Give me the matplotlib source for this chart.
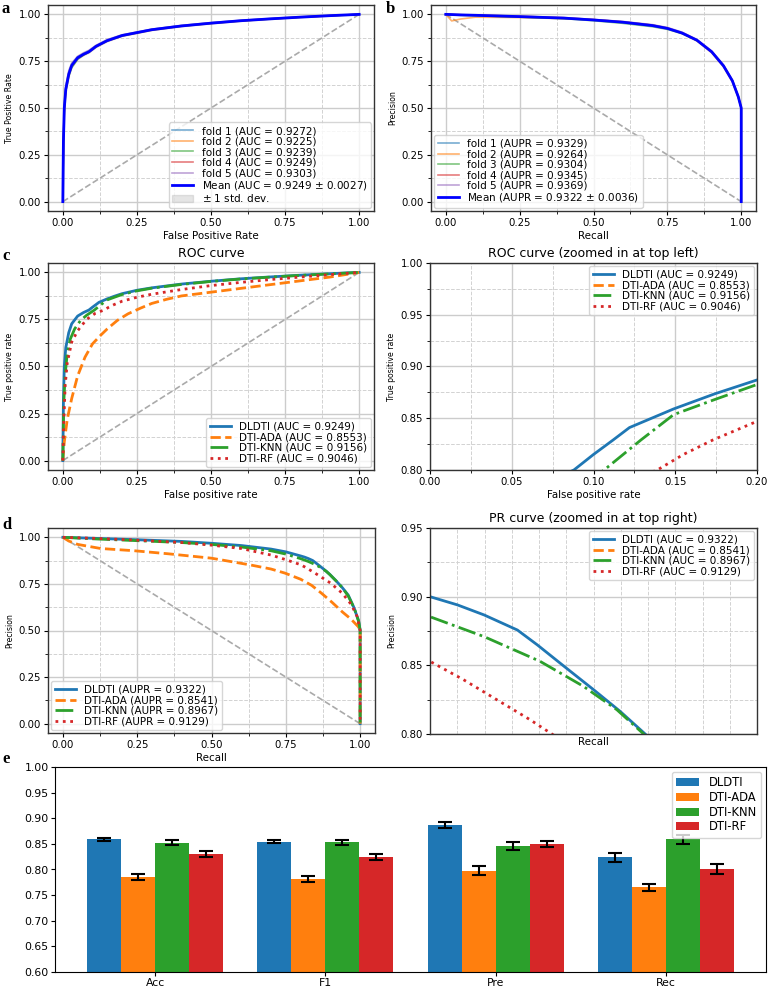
import numpy as np
import matplotlib
matplotlib.use('Agg')
import matplotlib.pyplot as plt
from matplotlib.ticker import MultipleLocator, AutoMinorLocator, FormatStrFormatter

# ---- panel a: ROC per fold (5-fold CV) ----
fpr_a = [0, 0.002, 0.005, 0.01, 0.02, 0.03, 0.05, 0.07, 0.088, 0.112, 0.149, 0.2, 0.3, 0.4, 0.5, 0.6, 0.7, 0.8, 0.9, 1.0]
tpr_fold1 = [0, 0.33, 0.51, 0.61, 0.69, 0.735, 0.773, 0.79, 0.805, 0.832, 0.862, 0.889, 0.920, 0.940, 0.955, 0.967, 0.977, 0.986, 0.993, 1.0]
tpr_fold2 = [0, 0.30, 0.48, 0.59, 0.67, 0.72, 0.763, 0.782, 0.797, 0.825, 0.856, 0.884, 0.915, 0.936, 0.951, 0.964, 0.975, 0.984, 0.992, 1.0]
tpr_fold3 = [0, 0.31, 0.49, 0.59, 0.67, 0.715, 0.76, 0.783, 0.798, 0.827, 0.858, 0.885, 0.917, 0.937, 0.952, 0.965, 0.975, 0.985, 0.993, 1.0]
tpr_fold4 = [0, 0.32, 0.50, 0.60, 0.68, 0.725, 0.767, 0.787, 0.80, 0.829, 0.859, 0.887, 0.918, 0.938, 0.953, 0.966, 0.976, 0.985, 0.993, 1.0]
tpr_fold5 = [0, 0.34, 0.52, 0.62, 0.70, 0.74, 0.776, 0.795, 0.808, 0.835, 0.865, 0.891, 0.921, 0.941, 0.956, 0.968, 0.978, 0.987, 0.994, 1.0]
tpr_mean = [0, 0.32, 0.50, 0.60, 0.68, 0.727, 0.768, 0.787, 0.80, 0.829, 0.859, 0.887, 0.918, 0.938, 0.953, 0.966, 0.976, 0.985, 0.993, 1.0]
auc_folds = [0.9272, 0.9225, 0.9239, 0.9249, 0.9303]

# ---- panel b: PR per fold ----
rec_b = [0, 0.02, 0.05, 0.1, 0.25, 0.4, 0.5, 0.6, 0.7, 0.75, 0.8, 0.85, 0.9, 0.94, 0.97, 0.99, 1.0, 1.0]
pre_fold1 = [1.0, 0.998, 0.996, 0.994, 0.987, 0.979, 0.969, 0.957, 0.939, 0.924, 0.899, 0.861, 0.800, 0.724, 0.645, 0.560, 0.5, 0.0]
pre_fold2 = [1.0, 0.965, 0.975, 0.985, 0.983, 0.977, 0.972, 0.960, 0.943, 0.926, 0.898, 0.858, 0.795, 0.720, 0.640, 0.555, 0.5, 0.0]
pre_fold3 = [1.0, 0.997, 0.995, 0.993, 0.985, 0.977, 0.966, 0.952, 0.934, 0.920, 0.897, 0.860, 0.800, 0.726, 0.647, 0.560, 0.5, 0.0]
pre_fold4 = [1.0, 0.999, 0.998, 0.996, 0.990, 0.982, 0.972, 0.960, 0.942, 0.927, 0.902, 0.864, 0.802, 0.727, 0.646, 0.561, 0.5, 0.0]
pre_fold5 = [1.0, 0.999, 0.998, 0.996, 0.990, 0.983, 0.973, 0.962, 0.945, 0.930, 0.905, 0.866, 0.805, 0.730, 0.650, 0.565, 0.5, 0.0]
pre_mean = [1.0, 0.999, 0.997, 0.995, 0.988, 0.980, 0.970, 0.958, 0.940, 0.925, 0.900, 0.862, 0.800, 0.725, 0.645, 0.560, 0.5, 0.0]
aupr_folds = [0.9329, 0.9264, 0.9304, 0.9345, 0.9369]

# ---- panel c: ROC of methods ----
methods = ['DLDTI', 'DTI-ADA', 'DTI-KNN', 'DTI-RF']
roc_auc = [0.9249, 0.8553, 0.9156, 0.9046]
fpr_dldti = [0, 0.002, 0.005, 0.01, 0.02, 0.03, 0.05, 0.07, 0.088, 0.1, 0.112, 0.122, 0.149, 0.174, 0.2, 0.25, 0.3, 0.4, 0.5, 0.6, 0.7, 0.8, 0.9, 1.0]
tpr_dldti = [0, 0.32, 0.50, 0.60, 0.68, 0.727, 0.768, 0.787, 0.80, 0.815, 0.829, 0.841, 0.859, 0.8735, 0.887, 0.905, 0.918, 0.938, 0.953, 0.966, 0.976, 0.985, 0.993, 1.0]
fpr_ada = [0, 0.005, 0.015, 0.03, 0.05, 0.075, 0.1, 0.127, 0.15, 0.184, 0.22, 0.262, 0.3, 0.35, 0.4, 0.5, 0.6, 0.75, 0.9, 1.0]
tpr_ada = [0, 0.10, 0.22, 0.33, 0.45, 0.55, 0.62, 0.665, 0.70, 0.745, 0.78, 0.81, 0.835, 0.857, 0.875, 0.895, 0.915, 0.945, 0.975, 1.0]
fpr_knn = [0, 0.003, 0.008, 0.015, 0.025, 0.04, 0.06, 0.08, 0.1065, 0.129, 0.149, 0.174, 0.2, 0.25, 0.3, 0.4, 0.5, 0.6, 0.7, 0.8, 0.9, 1.0]
tpr_knn = [0, 0.30, 0.46, 0.57, 0.645, 0.70, 0.745, 0.772, 0.80, 0.829, 0.8535, 0.868, 0.8826, 0.902, 0.916, 0.936, 0.952, 0.965, 0.975, 0.984, 0.992, 1.0]
fpr_rf = [0, 0.003, 0.008, 0.015, 0.03, 0.05, 0.08, 0.11, 0.139, 0.155, 0.173, 0.2, 0.25, 0.3, 0.4, 0.5, 0.6, 0.7, 0.8, 0.9, 1.0]
tpr_rf = [0, 0.20, 0.40, 0.52, 0.63, 0.69, 0.75, 0.783, 0.80, 0.815, 0.829, 0.847, 0.868, 0.884, 0.909, 0.93, 0.947, 0.962, 0.975, 0.988, 1.0]

# ---- panel d: PR of methods ----
pr_auc = [0.9322, 0.8541, 0.8967, 0.9129]
rec_dldti = [0, 0.1, 0.25, 0.4, 0.5, 0.6, 0.7, 0.75, 0.8, 0.8126, 0.8248, 0.8401, 0.8493, 0.8615, 0.875, 0.8872, 0.8987, 0.92, 0.94, 0.96, 0.98, 0.995, 1.0, 1.0]
pre_dldti = [1.0, 0.995, 0.987, 0.978, 0.968, 0.956, 0.937, 0.922, 0.900, 0.894, 0.8867, 0.8757, 0.8648, 0.8493, 0.8323, 0.8165, 0.800, 0.765, 0.73, 0.69, 0.62, 0.55, 0.5, 0.0]
rec_ada = [0, 0.02, 0.05, 0.127, 0.24, 0.352, 0.5, 0.63, 0.7, 0.747, 0.8, 0.837, 0.87, 0.905, 0.94, 0.97, 0.994, 1.0, 1.0]
pre_ada = [1.0, 0.98, 0.962, 0.94, 0.928, 0.912, 0.888, 0.852, 0.83, 0.808, 0.775, 0.742, 0.70, 0.652, 0.60, 0.56, 0.52, 0.5, 0.0]
rec_knn = [0, 0.1, 0.25, 0.4, 0.5, 0.6, 0.7, 0.75, 0.8, 0.8248, 0.8505, 0.8704, 0.8857, 0.898, 0.92, 0.94, 0.96, 0.98, 0.995, 1.0, 1.0]
pre_knn = [1.0, 0.992, 0.982, 0.972, 0.962, 0.948, 0.928, 0.91, 0.8854, 0.8709, 0.8529, 0.8347, 0.8177, 0.800, 0.765, 0.73, 0.685, 0.62, 0.55, 0.5, 0.0]
rec_rf = [0, 0.1, 0.25, 0.4, 0.5, 0.6, 0.7, 0.75, 0.8, 0.8153, 0.8306, 0.8459, 0.8559, 0.9, 0.94, 0.97, 0.99, 1.0, 1.0]
pre_rf = [1.0, 0.995, 0.985, 0.972, 0.958, 0.94, 0.905, 0.88, 0.8529, 0.8396, 0.825, 0.8104, 0.800, 0.755, 0.70, 0.64, 0.575, 0.5, 0.0]

# ---- panel e: metrics (mean, std) ----
metrics = ['Acc', 'F1', 'Pre', 'Rec']
mean_dldti = [0.859, 0.854, 0.8865, 0.824]
mean_ada = [0.786, 0.781, 0.798, 0.7655]
mean_knn = [0.852, 0.853, 0.8466, 0.8587]
mean_rf = [0.830, 0.824, 0.850, 0.8016]
std_dldti = [0.003, 0.003, 0.0057, 0.0086]
std_ada = [0.0057, 0.0054, 0.0092, 0.0067]
std_knn = [0.0051, 0.0051, 0.0076, 0.0092]
std_rf = [0.0054, 0.0054, 0.0057, 0.0095]

W, H = 768, 991
fig = plt.figure(figsize=(W / 100, H / 100), dpi=100)


def box(l, t, r, b):
    return [l / W, 1 - b / H, (r - l) / W, (b - t) / H]


def style(ax, xstep, ystep):
    ax.xaxis.set_major_locator(MultipleLocator(xstep))
    ax.yaxis.set_major_locator(MultipleLocator(ystep))
    ax.xaxis.set_minor_locator(AutoMinorLocator(2))
    ax.yaxis.set_minor_locator(AutoMinorLocator(2))
    ax.xaxis.set_major_formatter(FormatStrFormatter('%.2f'))
    ax.yaxis.set_major_formatter(FormatStrFormatter('%.2f'))
    ax.grid(which='major', color='#cccccc', lw=1.0, ls='-')
    ax.grid(which='minor', color='#d2d2d2', lw=0.7, ls='--')
    ax.set_axisbelow(True)
    ax.tick_params(labelsize=7.3, length=3, width=0.8, pad=2)
    ax.tick_params(which='minor', length=2, width=0.6)
    for s in ax.spines.values():
        s.set_linewidth(1.0)
        s.set_color('#333333')


lab = dict(fontsize=7.4, labelpad=2)
ylab = dict(fontsize=5.6, labelpad=3)
leg = dict(fontsize=7.5, labelspacing=0.05, borderpad=0.35, handlelength=2.0, borderaxespad=0.3)
fold_cols = ['tab:blue', 'tab:orange', 'tab:green', 'tab:red', 'tab:purple']
m_cols = ['tab:blue', 'tab:orange', 'tab:green', 'tab:red']
m_ls = ['-', '--', '-.', ':']

# a
ax = fig.add_axes(box(48, 5, 374, 211))
style(ax, 0.25, 0.25)
ax.plot([0, 1], [0, 1], ls='--', color='#aaaaaa', lw=1.2)
folds = [tpr_fold1, tpr_fold2, tpr_fold3, tpr_fold4, tpr_fold5]
for i, t in enumerate(folds):
    ax.plot(fpr_a, t, color=fold_cols[i], lw=1.2, alpha=0.6,
            label='fold %d (AUC = %.4f)' % (i + 1, auc_folds[i]))
ax.plot(fpr_a, tpr_mean, color='b', lw=2,
        label='Mean (AUC = %.4f $\\pm$ %.4f)' % (0.9249, 0.0027))
sd = np.std(np.array(folds), axis=0)
ax.fill_between(fpr_a, np.minimum(np.array(tpr_mean) + sd, 1), np.array(tpr_mean) - sd,
                color='grey', alpha=0.2, label='$\\pm$ 1 std. dev.')
ax.set_xlim(-0.05, 1.05)
ax.set_ylim(-0.05, 1.05)
ax.set_xlabel('False Positive Rate', **lab)
ax.set_ylabel('True Positive Rate', **ylab)
ax.legend(loc='lower right', **leg)

# b
ax = fig.add_axes(box(431, 5, 756, 211))
style(ax, 0.25, 0.25)
ax.plot([0, 1], [1, 0], ls='--', color='#aaaaaa', lw=1.2)
pfolds = [pre_fold1, pre_fold2, pre_fold3, pre_fold4, pre_fold5]
for i, p in enumerate(pfolds):
    ax.plot(rec_b, p, color=fold_cols[i], lw=1.2, alpha=0.6,
            label='fold %d (AUPR = %.4f)' % (i + 1, aupr_folds[i]))
ax.plot(rec_b, pre_mean, color='b', lw=2,
        label='Mean (AUPR = %.4f $\\pm$ %.4f)' % (0.9322, 0.0036))
ax.set_xlim(-0.05, 1.05)
ax.set_ylim(-0.05, 1.05)
ax.set_xlabel('Recall', **lab)
ax.set_ylabel('Precision', **ylab)
ax.legend(loc='lower left', **leg)

roc_x = [fpr_dldti, fpr_ada, fpr_knn, fpr_rf]
roc_y = [tpr_dldti, tpr_ada, tpr_knn, tpr_rf]
pr_x = [rec_dldti, rec_ada, rec_knn, rec_rf]
pr_y = [pre_dldti, pre_ada, pre_knn, pre_rf]

# c
ax = fig.add_axes(box(48, 263, 374, 470))
style(ax, 0.25, 0.25)
ax.plot([0, 1], [0, 1], ls='--', color='#aaaaaa', lw=1.2)
for i in range(4):
    ax.plot(roc_x[i], roc_y[i], color=m_cols[i], ls=m_ls[i], lw=2,
            label='%s (AUC = %.4f)' % (methods[i], roc_auc[i]))
ax.set_xlim(-0.05, 1.05)
ax.set_ylim(-0.05, 1.05)
ax.set_title('ROC curve', fontsize=9, pad=4)
ax.set_xlabel('False positive rate', **lab)
ax.set_ylabel('True positive rate', **ylab)
ax.legend(loc='lower right', **leg)

# c zoomed
ax = fig.add_axes(box(430, 263, 757, 470))
style(ax, 0.05, 0.05)
for i in range(4):
    ax.plot(roc_x[i], roc_y[i], color=m_cols[i], ls=m_ls[i], lw=2,
            label='%s (AUC = %.4f)' % (methods[i], roc_auc[i]))
ax.set_xlim(0, 0.2)
ax.set_ylim(0.8, 1.0)
ax.set_title('ROC curve (zoomed in at top left)', fontsize=9, pad=4)
ax.set_xlabel('False positive rate', **lab)
ax.set_ylabel('True positive rate', **ylab)
ax.legend(loc='upper right', **leg)

# d
ax = fig.add_axes(box(48, 528, 375, 733))
style(ax, 0.25, 0.25)
ax.plot([0, 1], [1, 0], ls='--', color='#aaaaaa', lw=1.2)
for i in range(4):
    ax.plot(pr_x[i], pr_y[i], color=m_cols[i], ls=m_ls[i], lw=2,
            label='%s (AUPR = %.4f)' % (methods[i], pr_auc[i]))
ax.set_xlim(-0.05, 1.05)
ax.set_ylim(-0.05, 1.05)
ax.set_xlabel('Recall', **lab)
ax.set_ylabel('Precision', **ylab)
ax.legend(loc='lower left', **leg)

# d zoomed
ax = fig.add_axes(box(430, 528, 757, 734))
style(ax, 0.025, 0.05)
for i in range(4):
    ax.plot(pr_x[i], pr_y[i], color=m_cols[i], ls=m_ls[i], lw=2,
            label='%s (AUC = %.4f)' % (methods[i], pr_auc[i]))
ax.set_xlim(0.8, 0.95)
ax.set_ylim(0.8, 0.95)
ax.xaxis.grid(which='major', color='#d2d2d2', lw=0.7, ls='--')
ax.tick_params(axis='x', which='both', labelbottom=False, length=0)
ax.set_title('PR curve (zoomed in at top right)', fontsize=9, pad=4)
ax.set_xlabel('Recall', **lab)
ax.set_ylabel('Precision', **ylab)
ax.legend(loc='upper right', **leg)

# e
ax = fig.add_axes(box(55, 767, 766, 972))
x = np.arange(len(metrics))
bw = 0.2
means = [mean_dldti, mean_ada, mean_knn, mean_rf]
stds = [std_dldti, std_ada, std_knn, std_rf]
for i in range(4):
    ax.bar(x + (i - 1.5) * bw, means[i], bw, yerr=stds[i], color=m_cols[i],
           label=methods[i], capsize=5,
           error_kw=dict(ecolor='black', elinewidth=1.5, capthick=1.5))
ax.set_ylim(0.6, 1.0)
ax.yaxis.set_major_locator(MultipleLocator(0.05))
ax.yaxis.set_major_formatter(FormatStrFormatter('%.2f'))
ax.set_xticks(x)
ax.set_xticklabels(metrics)
ax.tick_params(labelsize=7.8, pad=1.5, length=3)
ax.legend(loc='upper right', fontsize=8.3, labelspacing=0.15, borderaxespad=0.4)

for t, (px, py) in zip('abcde', [(2, 1), (386, 1), (2, 248), (2, 517), (2, 751)]):
    fig.text(px / W, 1 - py / H, t, fontsize=12, fontweight='bold',
             family='Liberation Serif', va='top', ha='left')

fig.savefig('out.png', dpi=100)
